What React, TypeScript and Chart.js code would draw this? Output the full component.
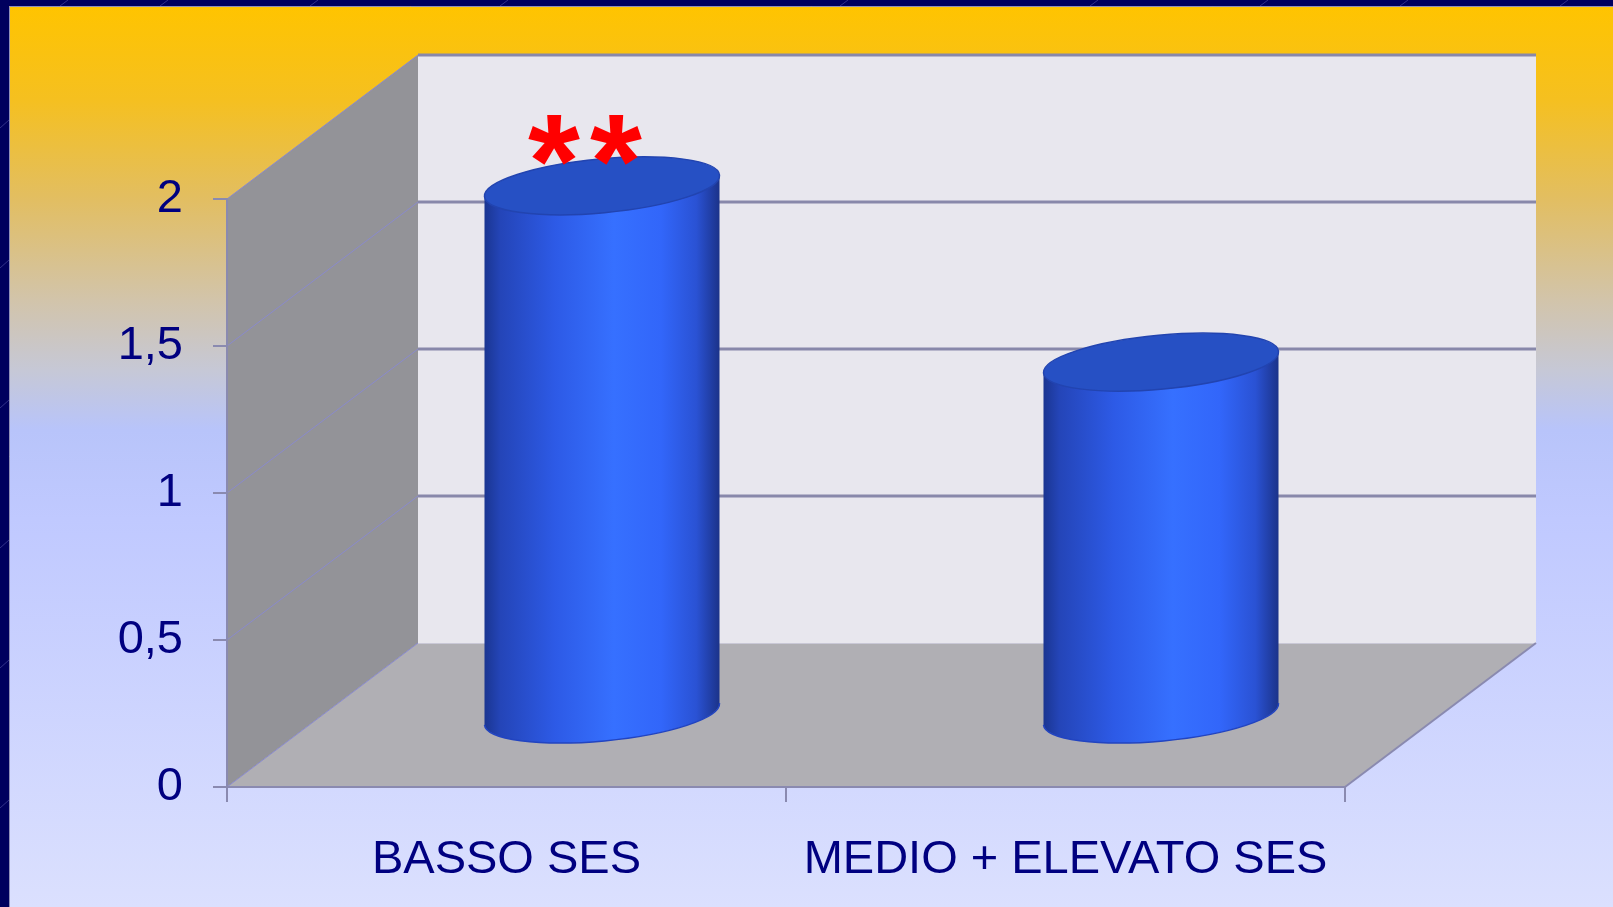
import React, { useEffect, useRef } from 'react';
import { Chart, registerables } from 'chart.js';

Chart.register(...registerables);

// ---- data ----
const categories = ['BASSO SES', 'MEDIO + ELEVATO SES'];
const values = [1.8, 1.2];
const yTicks = [0, 0.5, 1, 1.5, 2];
const yTickLabels = ['0', '0,5', '1', '1,5', '2'];
const significance = ['**', ''];

// ---- style ----
const W = 1613;
const H = 907;
const DEPTH_X = 191;
const DEPTH_Y = -144;
const FONT = '"Liberation Sans", Arial, sans-serif';
const NAVY = '#000080';
const LINE = '#8a8ab0';

const backdrop = {
  id: 'backdrop',
  beforeDraw(chart: any) {
    const ctx = chart.ctx as CanvasRenderingContext2D;
    const { left, right, top, bottom } = chart.chartArea;
    const ys = chart.scales.y;
    ctx.save();
    ctx.fillStyle = '#00005e';
    ctx.fillRect(0, 0, W, H);
    // faint decorative lines in the navy frame
    ctx.strokeStyle = 'rgba(140,140,220,0.35)';
    ctx.lineWidth = 1;
    [60, 160, 310, 500, 840, 1090, 1260, 1400, 1560].forEach((x) => {
      ctx.beginPath();
      ctx.moveTo(x, 6);
      ctx.lineTo(x + 8, 0);
      ctx.stroke();
    });
    [120, 260, 400, 540, 660, 800].forEach((y) => {
      ctx.beginPath();
      ctx.moveTo(0, y + 8);
      ctx.lineTo(9, y);
      ctx.stroke();
    });
    const g = ctx.createLinearGradient(0, 6, 0, H);
    g.addColorStop(0, '#FFC400');
    g.addColorStop(0.104, '#F5C020');
    g.addColorStop(0.215, '#E2BE62');
    g.addColorStop(0.326, '#D2C4AA');
    g.addColorStop(0.404, '#C6C8D6');
    g.addColorStop(0.47, '#B8C4FA');
    g.addColorStop(0.57, '#C0C9FF');
    g.addColorStop(1, '#DBE0FE');
    ctx.fillStyle = g;
    ctx.fillRect(9, 6, W - 9, H - 6);
    ctx.strokeStyle = '#9090b8';
    ctx.beginPath();
    ctx.moveTo(9.5, H);
    ctx.lineTo(9.5, 6.5);
    ctx.lineTo(W, 6.5);
    ctx.stroke();

    const bx = left + DEPTH_X;
    const btop = top + DEPTH_Y;
    const bbot = bottom + DEPTH_Y;
    // back wall
    ctx.fillStyle = '#e8e7ee';
    ctx.fillRect(bx, btop, right - left, bottom - top);
    // side wall
    ctx.fillStyle = '#939398';
    ctx.beginPath();
    ctx.moveTo(left, top);
    ctx.lineTo(bx, btop);
    ctx.lineTo(bx, bbot);
    ctx.lineTo(left, bottom);
    ctx.closePath();
    ctx.fill();
    // floor
    ctx.fillStyle = '#b0afb4';
    ctx.beginPath();
    ctx.moveTo(left, bottom);
    ctx.lineTo(bx, bbot);
    ctx.lineTo(right + DEPTH_X, bbot);
    ctx.lineTo(right, bottom);
    ctx.closePath();
    ctx.fill();
    // floor back edge
    ctx.strokeStyle = '#c9c8d6';
    ctx.lineWidth = 1;
    ctx.beginPath();
    ctx.moveTo(bx, bbot + 0.5);
    ctx.lineTo(right + DEPTH_X, bbot + 0.5);
    ctx.stroke();
    // gridlines
    yTicks.forEach((v) => {
      const y = ys.getPixelForValue(v);
      ctx.strokeStyle = '#8a8acc';
      ctx.lineWidth = 1;
      ctx.beginPath();
      ctx.moveTo(left, y);
      ctx.lineTo(bx, y + DEPTH_Y);
      ctx.stroke();
      if (v > 0) {
        ctx.strokeStyle = '#8888aa';
        ctx.lineWidth = 3;
        ctx.beginPath();
        ctx.moveTo(bx, y + DEPTH_Y);
        ctx.lineTo(right + DEPTH_X, y + DEPTH_Y);
        ctx.stroke();
      }
    });
    // floor right edge
    ctx.strokeStyle = LINE;
    ctx.lineWidth = 2;
    ctx.beginPath();
    ctx.moveTo(right, bottom);
    ctx.lineTo(right + DEPTH_X, bbot);
    ctx.stroke();
    ctx.restore();
  },
};

const cylinders = {
  id: 'cylinders',
  afterDatasetsDraw(chart: any) {
    const ctx = chart.ctx as CanvasRenderingContext2D;
    const meta = chart.getDatasetMeta(0);
    meta.data.forEach((el: any, i: number) => {
      const p = el.getProps(['x', 'y', 'base', 'width'], true);
      const cx = p.x + DEPTH_X / 2;
      const ty = p.y + DEPTH_Y / 2;
      const by = p.base + DEPTH_Y / 2;
      const a = p.width / 2;
      const b = 27;
      const rot = -0.092;
      const c = Math.cos(rot);
      const s = Math.sin(rot);
      ctx.save();
      const g = ctx.createLinearGradient(cx - a, 0, cx + a, 0);
      g.addColorStop(0, '#1a3590');
      g.addColorStop(0.07, '#2445b8');
      g.addColorStop(0.3, '#2d5ae6');
      g.addColorStop(0.55, '#3670ff');
      g.addColorStop(0.75, '#3266fa');
      g.addColorStop(0.9, '#2a52d4');
      g.addColorStop(1, '#1b3288');
      ctx.fillStyle = g;
      ctx.beginPath();
      ctx.ellipse(cx, by, a, b, rot, 0, Math.PI, false);
      ctx.lineTo(cx - a * c, ty - a * s);
      ctx.lineTo(cx + a * c, ty + a * s);
      ctx.closePath();
      ctx.fill();
      ctx.strokeStyle = '#2244c0';
      ctx.lineWidth = 1.5;
      ctx.beginPath();
      ctx.ellipse(cx, by, a, b, rot, 0, Math.PI, false);
      ctx.stroke();
      // top cap
      ctx.fillStyle = '#2650c4';
      ctx.strokeStyle = '#2244b0';
      ctx.beginPath();
      ctx.ellipse(cx, ty, a, b, rot, 0, Math.PI * 2);
      ctx.fill();
      ctx.stroke();

      const label = significance[i];
      if (label) {
        ctx.font = `bold 100px ${FONT}`;
        const m0 = ctx.measureText('*');
        const gw = m0.actualBoundingBoxLeft + m0.actualBoundingBoxRight;
        const size = (100 * 52) / gw;
        ctx.font = `bold ${size}px ${FONT}`;
        const m = ctx.measureText('*');
        const baseline = ty - 21 - m.actualBoundingBoxDescent;
        ctx.fillStyle = '#ff0000';
        ctx.textAlign = 'center';
        ctx.textBaseline = 'alphabetic';
        const chars = label.split('');
        chars.forEach((ch, k) => {
          const x = cx - 17 + (k - (chars.length - 1) / 2) * 62;
          ctx.fillText(ch, x, baseline);
        });
      }
      ctx.restore();
    });
  },
};

export default function App() {
  const ref = useRef<HTMLCanvasElement>(null);
  useEffect(() => {
    document.body.style.margin = '0';
    const chart = new Chart(ref.current as HTMLCanvasElement, {
      type: 'bar',
      data: {
        labels: categories,
        datasets: [
          {
            data: values,
            backgroundColor: 'rgba(0,0,0,0)',
            borderWidth: 0,
            barPercentage: 1,
            categoryPercentage: 0.4222,
          },
        ],
      },
      options: {
        responsive: false,
        animation: false,
        devicePixelRatio: 1,
        layout: { padding: { top: 199, right: 268, bottom: 0, left: 0 } },
        plugins: { legend: { display: false }, tooltip: { enabled: false } },
        scales: {
          x: {
            offset: true,
            grid: {
              offset: true,
              drawOnChartArea: false,
              drawTicks: true,
              tickLength: 15,
              color: LINE,
              lineWidth: 2,
            },
            border: { display: true, color: LINE, width: 2 },
            ticks: {
              color: NAVY,
              font: { family: FONT, size: 47 },
              padding: 30,
              maxRotation: 0,
              minRotation: 0,
              autoSkip: false,
            },
            afterFit: (s: any) => {
              s.height = 120;
            },
          },
          y: {
            min: 0,
            max: 2,
            afterBuildTicks: (s: any) => {
              s.ticks = yTicks.map((v) => ({ value: v }));
            },
            grid: {
              drawOnChartArea: false,
              drawTicks: true,
              tickLength: 14,
              color: LINE,
              lineWidth: 2,
            },
            border: { display: true, color: LINE, width: 2 },
            ticks: {
              color: NAVY,
              font: { family: FONT, size: 47 },
              padding: 30,
              callback: (v: any) => {
                const idx = yTicks.indexOf(Number(v));
                return idx >= 0 ? yTickLabels[idx] : '';
              },
            },
            afterFit: (s: any) => {
              s.width = 227;
            },
          },
        },
      } as any,
      plugins: [backdrop, cylinders],
    });
    return () => chart.destroy();
  }, []);
  return (
    <div style={{ width: W, height: H }}>
      <canvas ref={ref} width={W} height={H} style={{ display: 'block', width: W, height: H }} />
    </div>
  );
}
